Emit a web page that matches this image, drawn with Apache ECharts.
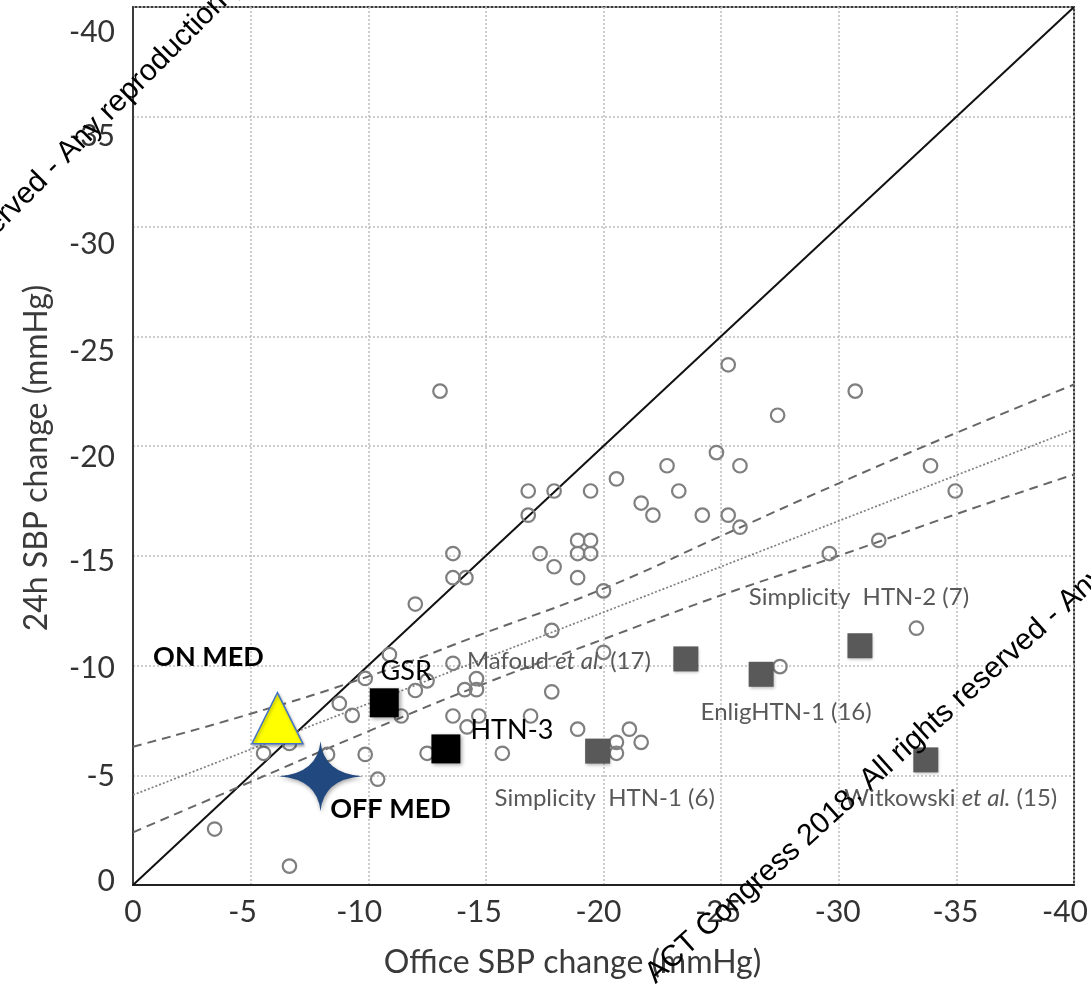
<!DOCTYPE html>
<html><head><meta charset="utf-8">
<script src="https://cdn.jsdelivr.net/npm/echarts@6/dist/echarts.min.js"></script>
<style>html,body{margin:0;padding:0;background:#fff}#c{width:1091px;height:984px}</style>
</head><body><div id="c"></div>
<script>
// ---- data (mmHg) ----
const studyX = [-3.47,-6.65,-5.55,-6.65,-8.27,-8.77,-9.32,-9.87,-9.87,-10.4,-10.9,-11.4,-12.0,-12.5,-12.0,-12.5,-13.05,-13.6,-13.6,-14.15,-13.6,-13.6,-14.1,-14.6,-14.6,-14.2,-15.7,-16.8,-16.8,-16.9,-17.3,-17.9,-17.9,-17.8,-17.8,-18.9,-19.45,-18.9,-19.45,-18.9,-19.45,-18.9,-20.0,-20.0,-20.55,-20.55,-20.55,-21.1,-21.6,-21.6,-22.1,-22.7,-23.2,-24.2,-24.8,-25.3,-25.3,-25.8,-25.8,-27.4,-27.5,-29.6,-30.7,-31.7,-33.3,-33.9,-34.95,-14.7];
const studyY = [-2.55,-0.86,-6.0,-6.45,-5.95,-8.27,-7.73,-9.41,-5.95,-4.82,-10.5,-7.7,-8.86,-9.3,-12.8,-6.0,-22.5,-15.1,-14.0,-14.0,-10.1,-7.7,-8.9,-9.4,-8.9,-7.2,-6.0,-17.95,-16.85,-7.7,-15.1,-17.95,-14.5,-11.6,-8.8,-15.7,-15.7,-15.1,-15.1,-14.0,-17.95,-7.1,-13.4,-10.6,-18.5,-6.5,-6.0,-7.1,-6.5,-17.4,-16.85,-19.1,-17.95,-16.85,-19.7,-23.7,-16.85,-19.1,-16.3,-21.4,-9.95,-15.1,-22.5,-15.7,-11.7,-19.1,-17.95,-7.7];
const identityX = [0, -40];
const identityY = [0, -40];
const regX = [0, -40];
const regY = [-4.1, -20.75];
const ciX = [0, -5, -10, -15, -20, -25, -30, -35, -40];
const ciUpper = [-6.3, -7.8, -9.5, -11.5, -13.5, -15.9, -18.3, -20.6, -22.8];
const ciLower = [-2.4, -4.7, -7.0, -9.2, -11.2, -13.2, -15.0, -16.9, -18.7];
const trialNames = ['Mafoud {i|et al.} (17)', 'Simplicity  HTN-1 (6)', 'Simplicity  HTN-2 (7)', 'EnligHTN-1 (16)', 'Witkowski {i|et al.} (15)'];
const trialX = [-23.5, -19.75, -30.9, -26.7, -33.7];
const trialY = [-10.3, -6.1, -10.9, -9.6, -5.7];
const shamNames = ['GSR', 'HTN-3'];
const shamX = [-10.68, -13.3];
const shamY = [-8.3, -6.2];
const onMedName = 'ON MED';
const onMedX = [-6.14];
const onMedY = [-7.6];
const offMedName = 'OFF MED';
const offMedX = [-7.97];
const offMedY = [-4.95];
const tickValues = [0, -5, -10, -15, -20, -25, -30, -35, -40];

// ---- styling (not data) ----
const trialLabelOffsets = [[-127, 2], [7, 47], [-1, -48], [25, 38], [25, 38]];
const shamLabelOffsets = [[22, -32], [66, -19]];
const xNudge = [0, -8, -9, -7, -5, -3, -1, -1, -9];   // px, + right
const yNudge = [-4, 1, 3, 6, 11, 15, 18, 20, 25];     // px, + down
const FONT = 'Lato, "Open Sans", sans-serif';
const WM_FONT = '30px "Liberation Sans", Arial, sans-serif';

const xRich = {}, yRich = {};
tickValues.forEach((v, i) => {
  const dx = xNudge[i];
  xRich['t' + i] = {fontFamily: FONT, fontSize: 30, color: '#333',
    padding: dx < 0 ? [0, -2 * dx, 0, 0] : [0, 0, 0, 2 * dx]};
  const dy = yNudge[i];
  yRich['t' + i] = {fontFamily: FONT, fontSize: 30, color: '#333',
    padding: dy > 0 ? [2 * dy, 0, 0, 0] : [0, 0, -2 * dy, 0]};
});
const tickFmt = v => { const i = tickValues.indexOf(v); return '{t' + i + '|' + v + '}'; };

const zip = (xs, ys) => xs.map((x, i) => [x, ys[i]]);
const shadow = {shadowBlur: 4, shadowColor: 'rgba(0,0,0,0.35)', shadowOffsetX: 2, shadowOffsetY: 2};

const chart = echarts.init(document.getElementById('c'), null, {renderer: 'canvas'});
const option = {
  animation: false,
  backgroundColor: '#fff',
  grid: {left: 133, right: 14, top: 7, bottom: 97, show: true, borderColor: '#3a3a3a', borderWidth: 2},
  xAxis: {
    type: 'value', min: -40, max: 0, interval: 5, inverse: true,
    axisLine: {show: true, onZero: false, lineStyle: {color: '#222', width: 2}},
    axisTick: {show: false},
    splitLine: {show: true, lineStyle: {type: [2, 2], color: '#bdbdbd', width: 1.5}},
    axisLabel: {margin: 12, formatter: tickFmt, rich: xRich, fontFamily: FONT, fontSize: 30, color: '#333'},
    name: 'Office SBP change (mmHg)', nameLocation: 'middle', nameGap: 62,
    nameTextStyle: {fontFamily: FONT, fontSize: 32, color: '#3a3a3a', padding: [0, 62, 0, 0]}
  },
  yAxis: {
    type: 'value', min: -40, max: 0, interval: 5, inverse: true,
    axisLine: {show: true, onZero: false, lineStyle: {color: '#3a3a3a', width: 2}},
    axisTick: {show: false},
    splitLine: {show: true, lineStyle: {type: [2, 2], color: '#bdbdbd', width: 1.5}},
    axisLabel: {margin: 18, formatter: tickFmt, rich: yRich, fontFamily: FONT, fontSize: 30, color: '#333'},
    name: '24h SBP change (mmHg)', nameLocation: 'middle', nameGap: 80,
    nameTextStyle: {fontFamily: FONT, fontSize: 32, color: '#3a3a3a', padding: [0, 24, 0, 0]}
  },
  series: [
    {type: 'line', data: zip(identityX, identityY), symbol: 'none', silent: true,
     lineStyle: {color: '#111', width: 2}, z: 3},
    {type: 'line', data: zip(regX, regY), symbol: 'none', silent: true,
     lineStyle: {color: '#808080', width: 1.7, type: [2, 2]}, z: 3},
    {type: 'line', data: zip(ciX, ciUpper), symbol: 'none', smooth: true, silent: true,
     lineStyle: {color: '#666', width: 2, type: [9, 6]}, z: 3},
    {type: 'line', data: zip(ciX, ciLower), symbol: 'none', smooth: true, silent: true,
     lineStyle: {color: '#666', width: 2, type: [9, 6]}, z: 3},
    {type: 'scatter', data: zip(studyX, studyY), symbol: 'circle', symbolSize: 13.5,
     itemStyle: {opacity: 1, color: 'rgba(255,255,255,0)', borderColor: '#7f7f7f', borderWidth: 2.2}, z: 4},
    {type: 'scatter', symbol: 'rect', symbolSize: 25, z: 5,
     itemStyle: {opacity: 1, color: '#595959', shadowBlur: 3, shadowColor: 'rgba(0,0,0,0.25)', shadowOffsetX: 1, shadowOffsetY: 2},
     data: trialNames.map((n, i) => ({value: [trialX[i], trialY[i]], name: n,
       label: {show: true, position: 'inside', offset: trialLabelOffsets[i], formatter: n,
         fontFamily: FONT, fontSize: 24, color: '#595959',
         rich: {i: {fontFamily: FONT, fontSize: 24, color: '#595959', fontStyle: 'italic'}}}}))},
    {type: 'scatter', symbol: 'rect', symbolSize: 29, z: 6,
     itemStyle: Object.assign({opacity: 1, color: '#000'}, shadow),
     data: shamNames.map((n, i) => ({value: [shamX[i], shamY[i]], name: n,
       label: {show: true, position: 'inside', offset: shamLabelOffsets[i], formatter: n,
         fontFamily: FONT, fontSize: 27, color: '#000'}}))},
    {type: 'scatter', symbol: 'triangle', symbolSize: [51, 51], z: 7,
     itemStyle: {opacity: 1, color: '#ffff00', borderColor: '#4472c4', borderWidth: 1.5, shadowBlur: 3, shadowColor: 'rgba(0,0,0,0.3)', shadowOffsetX: 1, shadowOffsetY: 2},
     data: onMedX.map((x, i) => ({value: [x, onMedY[i]], name: onMedName,
       label: {show: true, position: 'inside', offset: [-69, -61], formatter: onMedName,
         fontFamily: FONT, fontSize: 27, fontWeight: 'bold', color: '#000'}}))},
    {type: 'scatter', z: 8,
     symbol: 'path://M0,-35 Q3,-3 41.5,0 Q3,3 0,35 Q-3,3 -41.5,0 Q-3,-3 0,-35 Z',
     symbolSize: [83, 70], symbolKeepAspect: false,
     itemStyle: {opacity: 1, color: '#21497f', shadowBlur: 4, shadowColor: 'rgba(0,0,0,0.35)', shadowOffsetX: 1, shadowOffsetY: 2},
     data: offMedX.map((x, i) => ({value: [x, offMedY[i]], name: offMedName,
       label: {show: true, position: 'inside', offset: [70, 33], formatter: offMedName,
         fontFamily: FONT, fontSize: 27, fontWeight: 'bold', color: '#000'}}))}
  ],
  graphic: [
    {type: 'text', x: 62, y: 158, rotation: Math.PI / 4, z: 100, silent: true,
     style: {text: 'All rights reserved - ', font: WM_FONT, fill: '#000', align: 'right', verticalAlign: 'middle'}},
    {type: 'text', x: 62, y: 158, rotation: Math.PI / 4, z: 100, silent: true,
     style: {text: 'Any reproduction prohibited', font: WM_FONT, fill: '#000', align: 'left', verticalAlign: 'middle'}},
    {type: 'text', x: 650, y: 978, rotation: 42 * Math.PI / 180, z: 100, silent: true,
     style: {text: 'ACT Congress 2018. All rights reserved - Any reproduction prohibited', font: WM_FONT, fill: '#000', align: 'left', verticalAlign: 'middle'}}
  ]
};
chart.setOption(option);
</script>
</body></html>
